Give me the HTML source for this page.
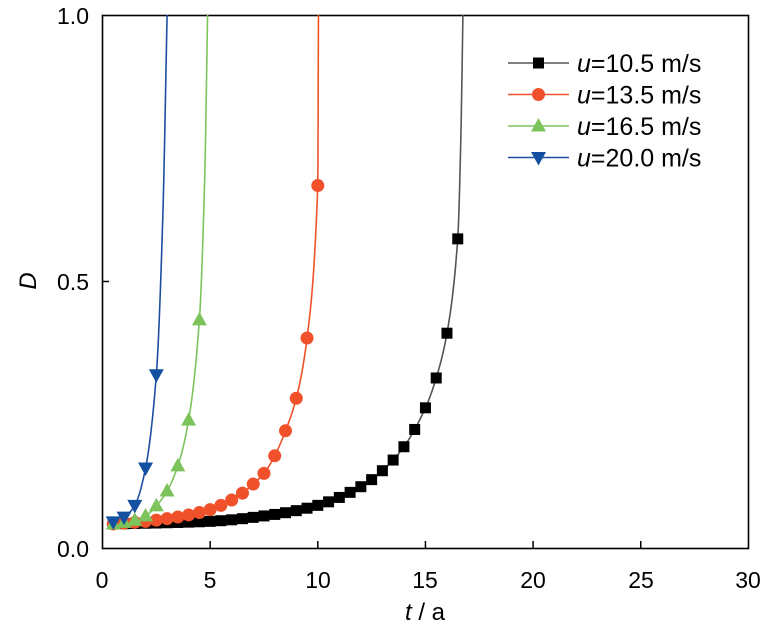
<!DOCTYPE html>
<html><head><meta charset="utf-8"><style>
html,body{margin:0;padding:0;background:#fff;}
svg{display:block;font-family:"Liberation Sans",Arial,sans-serif;}
</style></head><body>
<svg id="s" width="768" height="632" xmlns="http://www.w3.org/2000/svg">
<rect x="102.5" y="15.5" width="646" height="533" fill="none" stroke="#000" stroke-width="1.6"/>
<g font-size="23" fill="#000" text-anchor="end">
<text x="89" y="557">0.0</text>
<text x="89" y="290">0.5</text>
<text x="89" y="24">1.0</text>
</g>
<g font-size="23" fill="#000" text-anchor="middle">
<text x="102" y="588">0</text>
<text x="210" y="588">5</text>
<text x="318" y="588">10</text>
<text x="425" y="588">15</text>
<text x="533" y="588">20</text>
<text x="641" y="588">25</text>
<text x="748" y="588">30</text>
</g>
<text x="425" y="620" font-size="24" text-anchor="middle"><tspan font-style="italic">t</tspan> / a</text>
<text transform="translate(36,281) rotate(-90)" font-size="24" font-style="italic" text-anchor="middle">D</text>
<g id="ticks" stroke="#000" stroke-width="1.5"></g>
<g id="series"></g>
<g id="legend" font-size="25"></g>
</svg>
<script>
const X=t=>102.5+t*21.53, Y=d=>548-d*533;
const ns="http://www.w3.org/2000/svg";
function el(tag,attrs,parent){const e=document.createElementNS(ns,tag);for(const k in attrs)e.setAttribute(k,attrs[k]);parent.appendChild(e);return e;}
const tk=document.getElementById('ticks');
for(let t=5;t<30;t+=5){el('line',{x1:X(t),x2:X(t),y1:548,y2:541},tk);}
el('line',{x1:102,x2:109,y1:Y(0.5),y2:Y(0.5)},tk);
function mono(pts){
 const n=pts.length,xs=pts.map(p=>p[0]),ys=pts.map(p=>p[1]);
 const d=[],m=[];for(let i=0;i<n-1;i++)d.push((ys[i+1]-ys[i])/(xs[i+1]-xs[i]));
 m[0]=d[0];m[n-1]=d[n-2];
 for(let i=1;i<n-1;i++){m[i]=(d[i-1]*d[i]<=0)?0:(2/(1/d[i-1]+1/d[i]));}
 return t=>{let i=0;while(i<n-2&&t>xs[i+1])i++;
  const h=xs[i+1]-xs[i],s=(t-xs[i])/h;
  const h00=2*s*s*s-3*s*s+1,h10=s*s*s-2*s*s+s,h01=-2*s*s*s+3*s*s,h11=s*s*s-s*s;
  return h00*ys[i]+h10*h*m[i]+h01*ys[i+1]+h11*h*m[i+1];};
}
const series=[
 {line:'#555',col:'#000',mk:'sq',end:16.5,T:16.74,pts:[[0.5,0.045],[5,0.05],[8,0.063],[10,0.08],[12,0.115],[13,0.145],[14,0.19],[15,0.263],[15.5,0.319],[16,0.403],[16.5,0.58],[16.65,0.78],[16.74,1.0]]},
 {line:'#f0502a',col:'#f0502a',mk:'ci',end:10,T:10.03,pts:[[0.5,0.045],[2,0.05],[3,0.055],[4,0.062],[5,0.072],[5.5,0.08],[6,0.09],[6.5,0.103],[7,0.12],[7.5,0.14],[8,0.173],[8.5,0.22],[9,0.281],[9.5,0.394],[10,0.68],[10.03,1.0]]},
 {line:'#7cc35b',col:'#7cc35b',mk:'up',end:4.5,T:4.88,pts:[[0.5,0.045],[1,0.048],[1.5,0.052],[2,0.06],[2.5,0.079],[3,0.107],[3.5,0.154],[4,0.24],[4.5,0.428],[4.75,0.7],[4.88,1.0]]},
 {line:'#1f4ea0',col:'#1450a0',mk:'dn',end:2.5,T:3.0,pts:[[0.5,0.049],[1,0.058],[1.5,0.08],[2,0.15],[2.5,0.325],[2.8,0.62],[3.0,1.0]]}
];
const sg=document.getElementById('series');
function marker(type,x,y,c,g){
 if(type==='sq')el('rect',{x:x-5.5,y:y-5.5,width:11,height:11,fill:c},g);
 else if(type==='ci')el('circle',{cx:x,cy:y,r:6.5,fill:c},g);
 else if(type==='up')el('polygon',{points:`${x},${y-8} ${x-7.5},${y+5.5} ${x+7.5},${y+5.5}`,fill:c},g);
 else el('polygon',{points:`${x},${y+8} ${x-7.5},${y-5.5} ${x+7.5},${y-5.5}`,fill:c},g);
}
series.forEach(s=>{
 const f=mono(s.pts);let d='';
 const t0=s.pts[0][0],T=s.T;
 for(let i=0;i<=400;i++){const t=t0+(T-t0)*i/400;let v=Math.min(f(t),1.0);d+=(i?'L':'M')+X(t).toFixed(2)+' '+Y(v).toFixed(2);}
 el('path',{d:d,fill:'none',stroke:s.line,'stroke-width':1.6},sg);
});
series.forEach(s=>{
 const f=mono(s.pts);
 for(let t=0.5;t<=s.end+1e-6;t+=0.5)marker(s.mk,X(t),Y(f(t)),s.col,sg);
});
const lg=document.getElementById('legend');
const labels=['10.5','13.5','16.5','20.0'];
series.forEach((s,i)=>{
 const y=63+i*31.5;
 el('line',{x1:508,x2:569,y1:y,y2:y,stroke:s.line,'stroke-width':1.6},lg);
 marker(s.mk,538.5,y,s.col,lg);
 const t=el('text',{x:577,y:y+9},lg);
 t.innerHTML='<tspan font-style="italic">u</tspan>=' +labels[i]+' m/s';
});
</script>
</body></html>
